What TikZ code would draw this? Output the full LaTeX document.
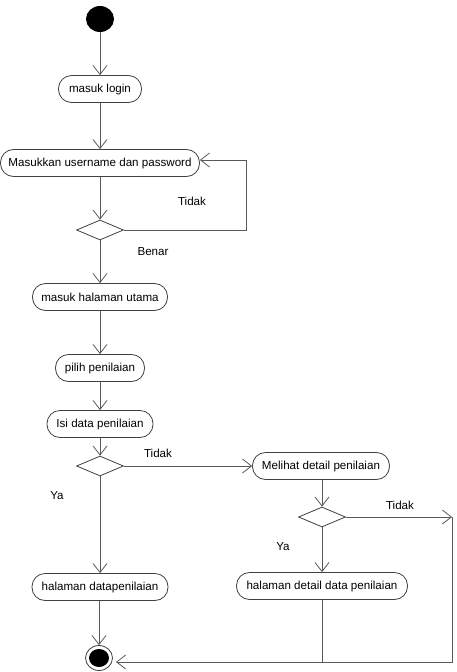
\documentclass[tikz,border=0pt]{standalone}
\usepackage{fontspec}
\setmainfont{Liberation Sans}
\usetikzlibrary{arrows.meta,shapes.geometric,shapes.misc}
\begin{document}
\begin{tikzpicture}[x=1pt,y=-1pt,
  act/.style={draw=black!75, line width=0.8pt, rectangle, rounded corners=13pt, minimum height=27pt, inner xsep=0pt, font=\fontsize{11.6}{13}\selectfont},
  dec/.style={draw=black!75, line width=0.8pt, diamond, minimum width=47pt, minimum height=20pt, inner sep=0pt},
  flow/.style={draw=black!65, line width=0.8pt, -{Straight Barb[length=9pt,width=14pt]}},
  plain/.style={draw=black!65, line width=0.8pt},
  lbl/.style={font=\fontsize{11.6}{13}\selectfont}]
\useasboundingbox (0,0) rectangle (456,672);
% nodes
\node[fill=black, ellipse, minimum width=28pt, minimum height=26pt, inner sep=0pt] (start) at (100,19) {};
\node[act, minimum width=83pt] (login) at (100,89) {masuk login};
\node[act, minimum width=199pt] (user) at (100,163) {Masukkan username dan password};
\node[dec] (d1) at (100,230) {};
\node[act, minimum width=135pt] (utama) at (100,297) {masuk halaman utama};
\node[act, minimum width=89pt] (pilih) at (100,368) {pilih penilaian};
\node[act, minimum width=106pt] (isi) at (100,424) {Isi data penilaian};
\node[dec] (d2) at (100,466) {};
\node[act, minimum width=137pt] (lihat) at (321,466) {Melihat detail penilaian};
\node[dec] (d3) at (322,517) {};
\node[act, minimum width=136pt] (hdata) at (100,587) {halaman datapenilaian};
\node[act, minimum width=171pt] (hdetail) at (322,586) {halaman detail data penilaian};
\node[draw=black!75, line width=0.8pt, ellipse, minimum width=27pt, minimum height=25pt, inner sep=0pt] (end) at (99,658) {};
\node[fill=black, ellipse, minimum width=20pt, minimum height=18pt, inner sep=0pt] (endin) at (99,658) {};
% labels
\node[lbl] (t1) at (192,201) {Tidak};
\node[lbl] (b1) at (153,252) {Benar};
\node[lbl] (t2) at (158,453) {Tidak};
\node[lbl] (y1) at (57,496) {Ya};
\node[lbl] (t3) at (400,505) {Tidak};
\node[lbl] (y2) at (283,547) {Ya};
% coordinates
\coordinate (l1) at (246,230);
\coordinate (l2) at (246,160);
\coordinate (c1) at (452,517);
\coordinate (c2) at (452,662);
\coordinate (c3) at (116,662);
% connectors
\draw[flow] (start) -- (login);
\draw[flow] (login) -- (user);
\draw[flow] (user) -- (d1);
\draw[flow] (d1.east) -- (l1) -- (l2) -- (l2 -| user.east);
\draw[flow] (d1) -- (utama);
\draw[flow] (utama) -- (pilih);
\draw[flow] (pilih) -- (isi);
\draw[flow] (isi) -- (d2);
\draw[flow] (d2.east) -- (lihat.west);
\draw[flow] (d2) -- (hdata);
\draw[flow] (hdata.south -| end.north) -- (end.north);
\draw[flow] (lihat.south -| d3.north) -- (d3.north);
\draw[flow] (d3.east) -- (c1);
\draw[flow] (d3) -- (hdetail);
\draw[flow] (c1) -- (c2) -- (c3);
\draw[plain] (hdetail.south) -- (hdetail.south |- c2);
\end{tikzpicture}
\end{document}
